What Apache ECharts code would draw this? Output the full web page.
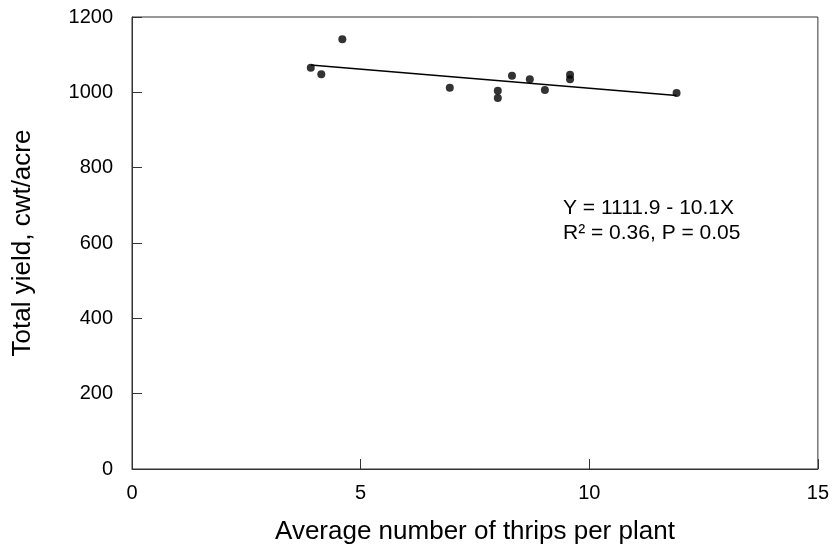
<!DOCTYPE html>
<html>
<head>
<meta charset="utf-8">
<script src="https://cdn.jsdelivr.net/npm/echarts@6/dist/echarts.min.js"></script>
<style>
  html, body { margin: 0; padding: 0; background: #fff; }
  #grafico { width: 832px; height: 553px; }
</style>
</head>
<body>
<div id="grafico"></div>
<script>
// Datos: trips por planta vs rendimiento
const tripsPorPlanta = [3.91, 4.14, 4.60, 6.95, 8.0, 8.0, 8.31, 8.70, 9.03, 9.58, 9.58, 11.91];
const rendimiento = [1065, 1048, 1141, 1012, 1004, 985, 1044, 1035, 1006, 1047, 1035, 998];

// Recta de regresion (extremos)
const rectaX = [3.91, 11.91];
const rectaY = [1072.4, 991.6];

const ecuacion = ['Y = 1111.9 - 10.1X', 'R\u00b2 = 0.36, P = 0.05'];
const tituloX = 'Average number of thrips per plant';
const tituloY = 'Total yield, cwt/acre';

const fuente = 'Liberation Sans, Arial, sans-serif';

function iniciar() {
    const chartDom = document.getElementById('grafico');
    const myChart = echarts.init(chartDom, null, {renderer: 'canvas'});

    const puntos = tripsPorPlanta.map((x, i) => [x, rendimiento[i]]);
    const recta = rectaX.map((x, i) => [x, rectaY[i]]);

    const option = {
        animation: false,
        backgroundColor: '#fff',
        grid: {
            left: 132, top: 17, right: 14, bottom: 84,
            show: true, borderColor: '#333', borderWidth: 1
        },
        xAxis: {
            type: 'value', min: 0, max: 15, interval: 5,
            name: tituloX, nameLocation: 'middle', nameGap: 50,
            nameTextStyle: {fontFamily: fuente, fontSize: 26, color: '#000'},
            axisLine: {show: true, lineStyle: {color: '#333', width: 1}},
            axisTick: {show: true, inside: true, length: 10, lineStyle: {color: '#333'}},
            axisLabel: {fontFamily: fuente, fontSize: 20, color: '#000', margin: 14},
            splitLine: {show: false}
        },
        yAxis: {
            type: 'value', min: 0, max: 1200, interval: 200,
            name: tituloY, nameLocation: 'middle', nameGap: 96,
            nameTextStyle: {fontFamily: fuente, fontSize: 26, color: '#000'},
            axisLine: {show: true, lineStyle: {color: '#333', width: 1}},
            axisTick: {show: true, inside: true, length: 10, lineStyle: {color: '#333'}},
            axisLabel: {
                fontFamily: fuente, fontSize: 20, color: '#000', margin: 19,
                formatter: v => String(v)
            },
            splitLine: {show: false}
        },
        graphic: [
            {
                type: 'text', left: 563, top: 198,
                style: {text: ecuacion[0], font: '21px ' + fuente, fill: '#000'}
            },
            {
                type: 'text', left: 563, top: 223,
                style: {text: ecuacion[1], font: '21px ' + fuente, fill: '#000'}
            }
        ],
        series: [
            {
                type: 'line',
                data: recta,
                symbol: 'none',
                lineStyle: {color: '#000', width: 1.5},
                z: 2
            },
            {
                type: 'scatter',
                data: puntos,
                symbol: 'circle',
                symbolSize: 8,
                itemStyle: {color: '#000'},
                z: 3
            }
        ]
    };

    myChart.setOption(option);
}

iniciar();
</script>
</body>
</html>
